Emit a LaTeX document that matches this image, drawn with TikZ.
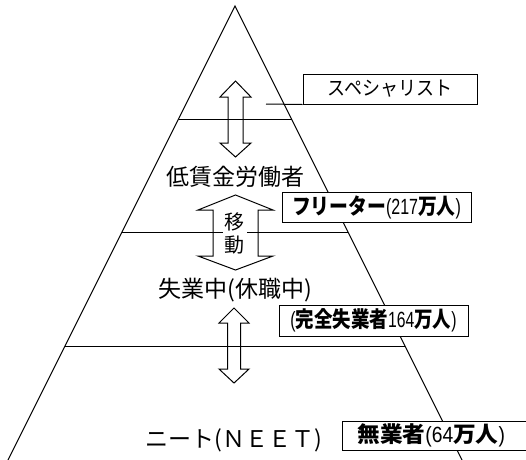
\documentclass[tikz,border=0pt]{standalone}
\usepackage{fontspec}
\usepackage{graphicx}
\setmainfont{Noto Sans CJK JP}
\newfontfamily\numfont{Liberation Sans}
\newcommand\nrw[1]{\scalebox{0.85}[1]{\numfont #1}}
\newcommand\sqz[2]{\scalebox{#1}[1]{#2}}
\begin{document}
\begin{tikzpicture}[x=1pt,y=-1pt, line width=1pt,
  lbl/.style={font=\fontsize{23}{26}\selectfont, inner sep=0pt},
  box/.style={draw, fill=white, minimum height=30pt, inner sep=0pt, font=\fontsize{22}{24}\selectfont},
  dbl/.style={draw, line width=1pt, line join=miter}]
\useasboundingbox (0,0) rectangle (526,459);
% pyramid
\coordinate (apex) at (235,6);
\coordinate (bl) at (5.5,465);
\coordinate (br) at (464.5,465);
\draw (bl) -- (apex) -- (br);
\draw (178.5,119) -- (291.5,119);
\draw (122,232) -- (348,232);
\draw (65,346) -- (405,346);
% arrows
\draw[dbl] (235.5,81) -- (251,97) -- (243,97) -- (243,143) -- (251,143) -- (235.5,157)
  -- (220,143) -- (228,143) -- (228,97) -- (220,97) -- cycle;
\draw[dbl] (235.5,195) -- (273,210) -- (258,210) -- (258,256) -- (273,256) -- (235.5,270)
  -- (198,256) -- (213,256) -- (213,210) -- (198,210) -- cycle;
\draw[dbl] (234,308) -- (249,323) -- (240.5,323) -- (240.5,369) -- (249,369) -- (234,383)
  -- (219,369) -- (227.5,369) -- (227.5,323) -- (219,323) -- cycle;
\node[fill=white, inner xsep=2pt, inner ysep=1pt, align=center,
  font=\fontsize{20}{23}\selectfont] (move) at (234.5,233) {移\\動};
% labels
\node[lbl] (low) at (235,177) {低賃金労働者};
\node[lbl] (unem) at (235,290) {失業中(休職中)};
\node[lbl] (neet) at (233.5,440) {ニート(ＮＥＥＴ)};
% boxes
\node[box, minimum width=174pt, font=\fontsize{20}{22}\selectfont] (spec) at (390,89)
  {\sqz{0.9}{スペシャリスト}};
\coordinate (specend) at (266,104);
\draw (specend) -- (spec.south west);
\node[box, minimum width=189pt] (free) at (376.5,207)
  {\sqz{0.855}{\textbf{フリーター}\nrw{(217}\textbf{万人}\nrw{)}}};
\node[box, minimum width=189pt, minimum height=31pt] (unemp) at (373.5,320.5)
  {\sqz{0.84}{\nrw{(}\textbf{完全失業者}\nrw{164}\textbf{万人}\nrw{)}}};
\node[box, anchor=west, text width=175pt, align=left, inner xsep=15pt, minimum height=29pt]
  (mugyo) at (342,435.5) {\sqz{1.03}{\textbf{無業者}\nrw{(64}\textbf{万人}\nrw{)}}};
\end{tikzpicture}
\end{document}
